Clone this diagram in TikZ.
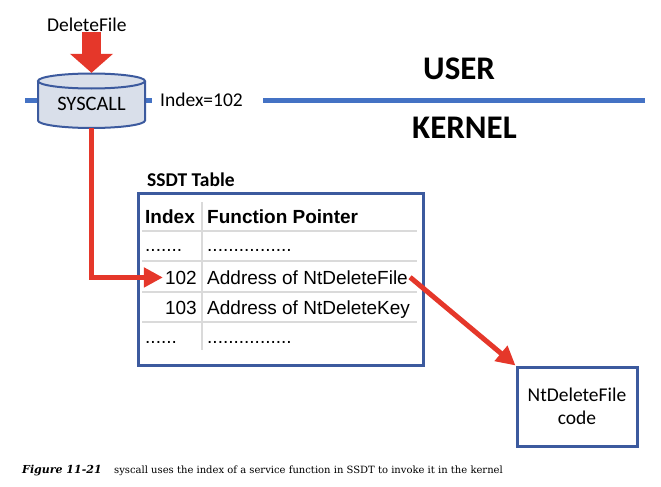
\documentclass[tikz,border=0pt]{standalone}
\usepackage{fontspec}
\setmainfont{Carlito}
\newfontfamily\arialfont{Liberation Sans}
\newfontfamily\captionfont{DejaVu Serif}
\usetikzlibrary{arrows.meta,positioning}
\definecolor{splitblue}{HTML}{4472C4}
\definecolor{boxblue}{HTML}{3C5A9E}
\definecolor{cylfill}{HTML}{D9DFEA}
\definecolor{callred}{HTML}{E5372A}
\definecolor{gridgray}{HTML}{DADADA}
\begin{document}
\begin{tikzpicture}[x=1pt, y=1pt,
   label text/.style={inner sep=0pt, font=\fontsize{19.5}{23}\selectfont},
   big text/.style={inner sep=0pt, font=\fontsize{33}{36}\selectfont\bfseries},
   cell/.style={inner sep=0pt, font=\arialfont\fontsize{19}{22}\selectfont},
   cell head/.style={inner sep=0pt, font=\arialfont\bfseries\fontsize{19}{22}\selectfont},
   split line/.style={draw=splitblue, line width=5pt},
   table border/.style={draw=boxblue, line width=3pt},
   grid line/.style={draw=gridgray, line width=1.5pt},
   fat arrow/.style={draw=callred, line width=19pt, -{Triangle[width=42pt, length=19pt]}},
   red arrow/.style={draw=callred, line width=5pt, -{Triangle[width=19pt, length=19pt]}}]

\useasboundingbox (0,0) rectangle (661,-487);

\coordinate (userleft) at (25,-100);
\coordinate (userright) at (645,-100);

\node[label text, anchor=base west] (deletefile) at (47,-32) {DeleteFile};
\node[label text, anchor=base west] (indexnote) at (160,-106) {Index=102};

\draw[split line] (userleft) -- (userleft -| 38,0);
\draw[split line, shorten >=8pt] (145,-100) -- (indexnote.west |- userleft);
\draw[split line, shorten <=20pt] (indexnote.east |- userleft) -- (userright);

\filldraw[fill=cylfill, draw=boxblue, line width=2pt]
   (38,-81) -- (38,-120.5) arc[start angle=180, end angle=360, x radius=53.5pt, y radius=7.5pt] -- (145,-81);
\filldraw[fill=cylfill, draw=boxblue, line width=2pt]
   (91.5,-81) ellipse [x radius=53.5pt, y radius=7.5pt];
\node[label text, font=\fontsize{20.5}{24}\selectfont, minimum width=107pt, minimum height=48pt] (syscall) at (91.5,-104) {SYSCALL};

\draw[fat arrow] (syscall.north |- deletefile.south) -- ([yshift=7pt]syscall.north);

\node[big text, anchor=base west] (user) at (423,-80) {USER};
\node[big text, anchor=base west] (kernel) at (412,-138) {KERNEL};

\node[label text, font=\fontsize{19.5}{23}\selectfont\bfseries, anchor=base west] (ssdtlabel) at (147,-186) {SSDT Table};
\draw[table border] (138,-193) rectangle (423,-365);
\foreach \y in {231,261,292,322}
   \draw[grid line] (142,-\y) -- (417,-\y);
\draw[grid line] (202,-202) -- (202,-350);

\node[cell head, anchor=base west] (headindex) at (145,-223) {Index};
\node[cell head, anchor=base west] (headpointer) at (207,-223) {Function Pointer};
\node[cell, anchor=base west] (dotsindexa) at (145,-251) {.......};
\node[cell, anchor=base west] (dotspointera) at (207,-251) {................};
\node[cell, anchor=base east] (index102) at (197,-284) {102};
\node[cell, anchor=base west] (address102) at (207,-284) {Address of NtDeleteFile};
\node[cell, anchor=base east] (index103) at (197,-314) {103};
\node[cell, anchor=base west] (address103) at (207,-314) {Address of NtDeleteKey};
\node[cell, anchor=base west] (dotsindexb) at (145,-343) {......};
\node[cell, anchor=base west] (dotspointerb) at (207,-343) {................};

\node[table border, label text, minimum width=120pt, minimum height=79pt, align=center] (ntcode) at (577,-406.5) {NtDeleteFile\\code};

\draw[red arrow] (syscall.south) |- ([xshift=-2pt]index102.west);
\draw[red arrow] ([xshift=2pt]address102.east) -- (ntcode.north west);

\node[anchor=base west, inner sep=0pt, font=\captionfont\bfseries\itshape\fontsize{11}{13}\selectfont] (figlabel) at (22,-473) {Figure 11-21};
\node[anchor=base west, inner sep=0pt, font=\captionfont\fontsize{10}{12}\selectfont] (figcaption) at (114,-473) {syscall uses the index of a service function in SSDT to invoke it in the kernel};

\end{tikzpicture}
\end{document}
